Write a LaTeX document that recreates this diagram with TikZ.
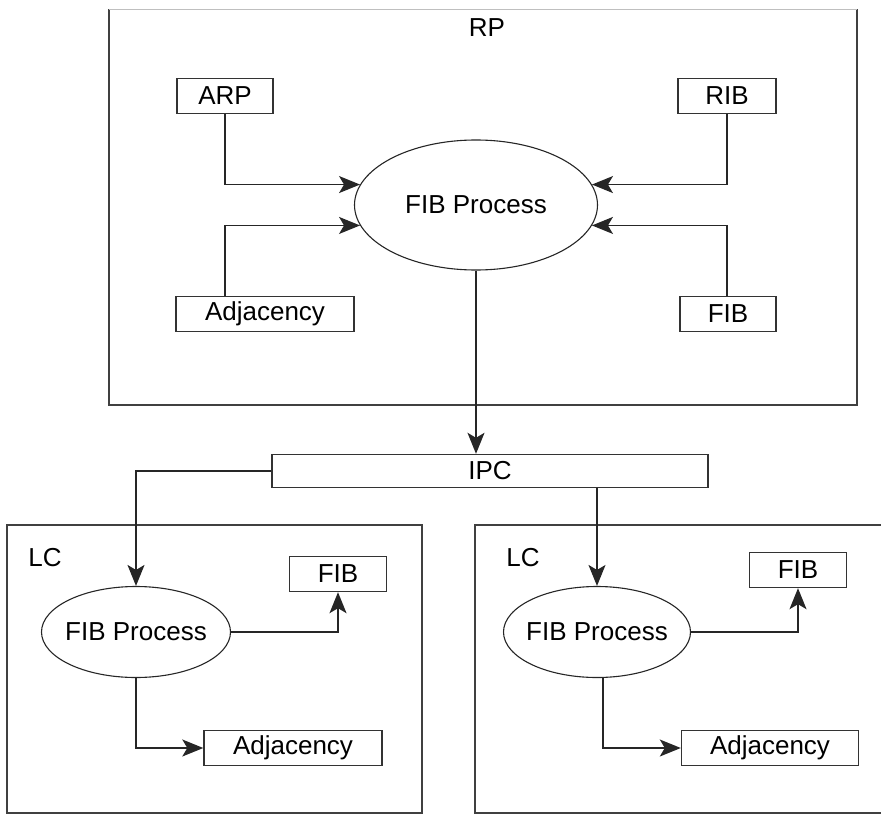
\documentclass[tikz,border=0pt]{standalone}
\usepackage{fontspec}
\setmainfont{Liberation Sans}
\usetikzlibrary{shapes.geometric, arrows.meta, positioning}
\tikzset{
	block/.style={
		rectangle,
		minimum height=35,
		inner sep=0pt,
		text centered,
		draw=black!80,
		line width=1.4pt,
		font=\fontsize{26}{29}\selectfont
	},
	proc/.style={
		ellipse,
		inner xsep=-5pt,
		inner ysep=0pt,
		draw=black!85,
		line width=1.1pt,
		font=\fontsize{26}{29}\selectfont
	},
	tag/.style={
		inner sep=0pt,
		font=\fontsize{26}{29}\selectfont
	},
	panel/.style={draw=black!75, line width=1.6pt},
	arrow/.style={line width=1.4pt, draw=black!85, -{Stealth[length=21pt, width=17pt, inset=5pt]}}
}

\begin{document}
\begin{tikzpicture}[x=1pt, y=-1pt]
				\useasboundingbox (0,0) rectangle (881,816);
				% route processor
				\draw [panel] (109,9) -- (109,405) -- (857,405) -- (857,9);
				\draw [gray!50, line width=0.8pt] (109,9) -- (857,9);
				\node (rp) [tag] at (487,28) {RP};
				\node (arp) [block, minimum width=96] at (225,96) {ARP};
				\node (rib) [block, minimum width=98] at (727,96) {RIB};
				\node (fibp) [proc, minimum width=243, minimum height=130] at (476,205) {FIB Process};
				\node (adj) [block, minimum width=178] at (265,314) {Adjacency};
				\node (fib) [block, minimum width=96] at (728,314) {FIB};
				\node (ipc) [block, minimum width=436, minimum height=33] at (490,471) {IPC};
				
				% line cards
				\draw [panel] (7,525) rectangle (422,813);
				\draw [panel] (885,525) -- (475,525) -- (475,813) -- (885,813);
				\node (lcl) [tag] at (45,558) {LC};
				\node (lproc) [proc, minimum width=189, minimum height=91] at (136,632) {FIB Process};
				\node (lfib) [block, minimum width=97] at (338,574) {FIB};
				\node (ladj) [block, minimum width=178] at (293,748) {Adjacency};
				\node (lcr) [tag] at (523,558) {LC};
				\node (rproc) [proc, minimum width=187, minimum height=91] at (597,632) {FIB Process};
				\node (rfib) [block, minimum width=97] at (798,570) {FIB};
				\node (radj) [block, minimum width=177] at (770,748) {Adjacency};
				
				\draw [arrow] (arp.south) |- (fibp.170);
				\draw [arrow] (adj.north -| arp.south) |- (fibp.190);
				\draw [arrow] (rib.south) |- (fibp.10);
				\draw [arrow] (fib.north -| rib.south) |- (fibp.350);
				\draw [arrow] (fibp.south) -- (fibp.south |- ipc.north);
				\draw [arrow] (ipc.west) -| (lproc.north);
				\draw [arrow] (ipc.south -| rproc.north) -- (rproc.north);
				\draw [arrow] (lproc.east) -| (lfib.south);
				\draw [arrow] (lproc.south) |- (ladj.west);
				\draw [arrow] (rproc.east) -| (rfib.south);
				\draw [arrow] ([xshift=6]rproc.south) |- (radj.west);
			\end{tikzpicture}
\end{document}
